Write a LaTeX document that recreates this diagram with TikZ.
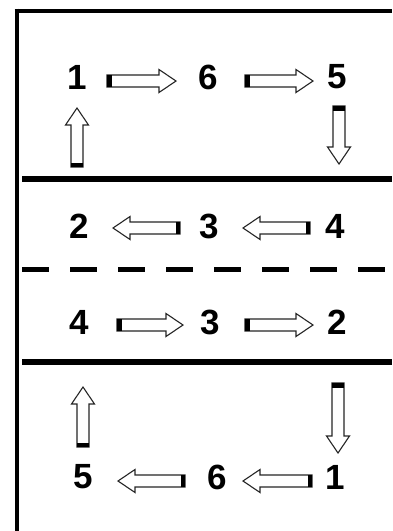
\documentclass[tikz,border=0pt]{standalone}
\usepackage{fontspec}
\setmainfont{Liberation Sans}
\begin{document}
\begin{tikzpicture}[x=1pt,y=-1pt,
  num/.style={inner sep=0pt, font=\fontsize{35}{40}\selectfont\bfseries},
  thick line/.style={line width=6pt},
  frame line/.style={line width=4.8pt},
  arrowline/.style={line width=1.1pt, draw=black!85, fill=white, line join=miter},
  pics/barrow/.style={code={
    \draw[arrowline] (0,-6) -- ({#1-17},-6) -- ({#1-17},-11.5) -- (#1,0)
      -- ({#1-17},11.5) -- ({#1-17},6) -- (0,6) -- cycle;
    \fill (0,-6) rectangle (4.5,6);
  }}]
\useasboundingbox (0,0) rectangle (392,531);
\fill[white] (0,0) rectangle (392,531);
% frame
\coordinate (tl) at (17,8.5);
\coordinate (tr) at (392,11);
\coordinate (bl) at (17,531);
\draw[frame line, line cap=butt] (bl) -- (tl |- tr) ++(-2.4,0) -- (tr);
\draw[frame line] (tl) ++(0,0) -- (bl);
% separators
\coordinate (s1l) at (22,179);  \coordinate (s1r) at (392,179);
\coordinate (s2l) at (22,269);  \coordinate (s2r) at (392,269);
\coordinate (s3l) at (22,362);  \coordinate (s3r) at (392,362);
\draw[thick line] (s1l) -- (s1r);
\draw[line width=5pt, dash pattern=on 27pt off 21pt] (s2l) -- (s2r);
\draw[thick line] (s3l) -- (s3r);
% row 1
\node[num] (a1) at (77,77) {1};
\node[num] (a6) at (208,77) {6};
\node[num] (a5) at (337,77) {5};
\pic at (107,81) {barrow=69};
\pic at (245,81) {barrow=68};
\pic[rotate=90] at (77,167) {barrow=59};
\pic[rotate=-90] at (339,106) {barrow=58};
% row 2
\node[num] (b2) at (79,226) {2};
\node[num] (b3) at (209,226) {3};
\node[num] (b4) at (335,226) {4};
\pic[rotate=180] at (180,228) {barrow=67};
\pic[rotate=180] at (310,228) {barrow=67};
% row 3
\node[num] (c4) at (79,322) {4};
\node[num] (c3) at (210,322) {3};
\node[num] (c2) at (337,322) {2};
\pic at (117,325) {barrow=66};
\pic at (245,325) {barrow=68};
% bottom
\node[num] (d5) at (83,477) {5};
\node[num] (d6) at (217,477) {6};
\node[num] (d1) at (335,477) {1};
\pic[rotate=90] at (83,447) {barrow=60};
\pic[rotate=-90] at (338,383) {barrow=70};
\pic[rotate=180] at (185,481) {barrow=67};
\pic[rotate=180] at (312,481) {barrow=69};
\end{tikzpicture}
\end{document}
